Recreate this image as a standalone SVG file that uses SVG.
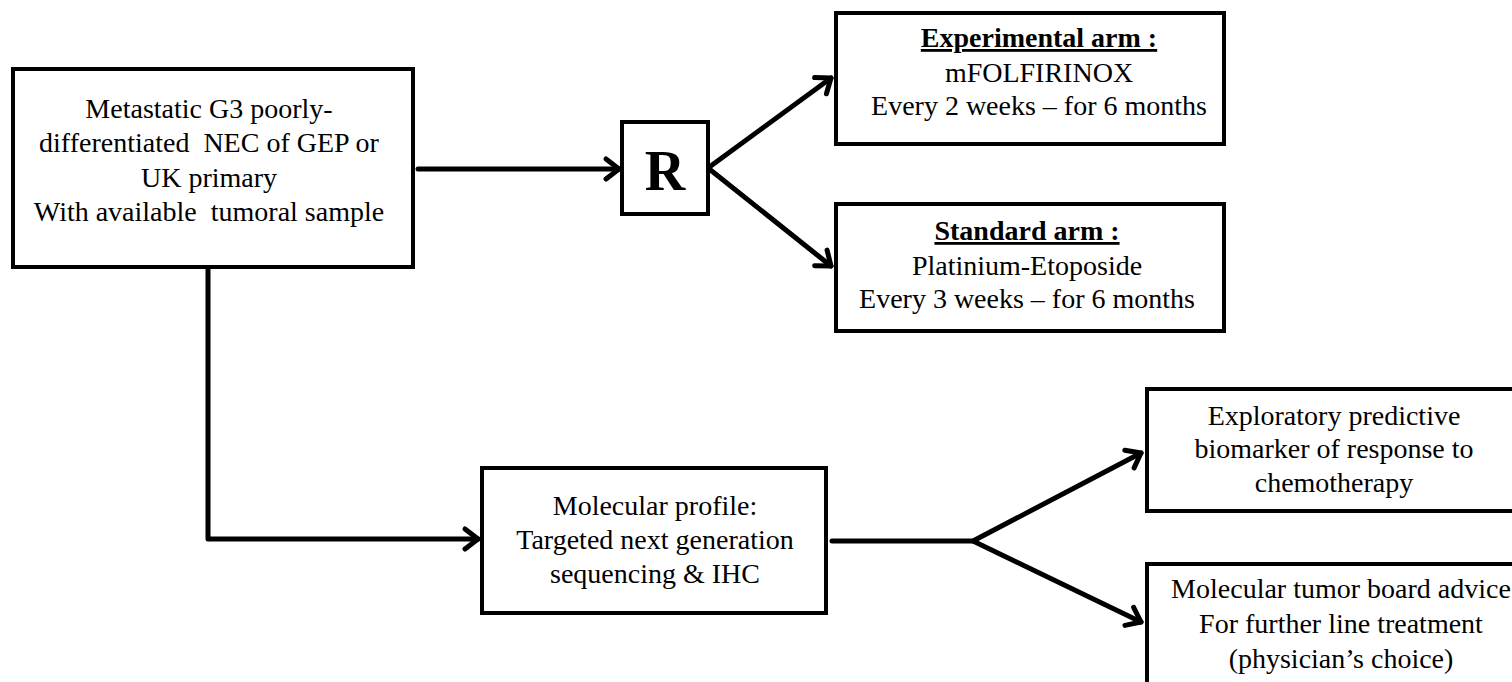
<svg xmlns="http://www.w3.org/2000/svg" width="1512" height="682" viewBox="0 0 1512 682">
<style>
.box{fill:#fff;stroke:#000;stroke-width:4}
.t{font-family:"Liberation Serif","Times New Roman",serif;font-size:28px;fill:#000;text-anchor:middle;white-space:pre}
.b{font-weight:bold}
.u{text-decoration:underline}
.c{fill:none;stroke:#000;stroke-width:5;stroke-linecap:round;stroke-linejoin:round}
</style>
<defs>
<marker id="ah" markerUnits="userSpaceOnUse" markerWidth="30" markerHeight="30" refX="0" refY="0" viewBox="-20 -15 25 30" orient="auto" overflow="visible">
<path d="M-13,-10 L0,0 L-13,10" fill="none" stroke="#000" stroke-width="5" stroke-linecap="round" stroke-linejoin="round"/>
</marker>
</defs>
<rect width="1512" height="682" fill="#fff"/>
<g id="connectors">
<path class="c" d="M418,169 L619,169" marker-end="url(#ah)"/>
<path class="c" d="M708,168 L831,78" marker-end="url(#ah)"/>
<path class="c" d="M708,168 L831,266" marker-end="url(#ah)"/>
<path class="c" d="M208,269 L208,539 L478,539" marker-end="url(#ah)"/>
<path class="c" d="M832,541 L973,541 L1141,453" marker-end="url(#ah)"/>
<path class="c" d="M973,541 L1141,622" marker-end="url(#ah)"/>
</g>
<g id="main">
<rect class="box" x="13" y="69" width="400" height="198"/>
<text class="t" x="209" y="118">Metastatic G3 poorly-</text>
<text class="t" x="209" y="152" xml:space="preserve">differentiated  NEC of GEP or</text>
<text class="t" x="209" y="187">UK primary</text>
<text class="t" x="209" y="221" xml:space="preserve">With available  tumoral sample</text>
</g>
<g id="R">
<rect class="box" x="622" y="122" width="86" height="92"/>
<text class="t b" x="665" y="190" style="font-size:56px">R</text>
</g>
<g id="experimental">
<rect class="box" x="836" y="13" width="388" height="131"/>
<text class="t b u" x="1039" y="47">Experimental arm :</text>
<text class="t" x="1039" y="82">mFOLFIRINOX</text>
<text class="t" x="1039" y="115">Every 2 weeks – for 6 months</text>
</g>
<g id="standard">
<rect class="box" x="836" y="204" width="388" height="127"/>
<text class="t b u" x="1027" y="240">Standard arm :</text>
<text class="t" x="1027" y="275">Platinium-Etoposide</text>
<text class="t" x="1027" y="308">Every 3 weeks – for 6 months</text>
</g>
<g id="molecular">
<rect class="box" x="482" y="468" width="344" height="145"/>
<text class="t" x="655" y="515">Molecular profile:</text>
<text class="t" x="655" y="549">Targeted next generation</text>
<text class="t" x="655" y="583">sequencing &amp; IHC</text>
</g>
<g id="exploratory">
<rect class="box" x="1147" y="389" width="380" height="122"/>
<text class="t" x="1334" y="425">Exploratory predictive</text>
<text class="t" x="1334" y="458">biomarker of response to</text>
<text class="t" x="1334" y="492">chemotherapy</text>
</g>
<g id="tumorboard">
<rect class="box" x="1147" y="564" width="380" height="140"/>
<text class="t" x="1341" y="598">Molecular tumor board advice</text>
<text class="t" x="1341" y="633">For further line treatment</text>
<text class="t" x="1341" y="668">(physician’s choice)</text>
</g>
</svg>
